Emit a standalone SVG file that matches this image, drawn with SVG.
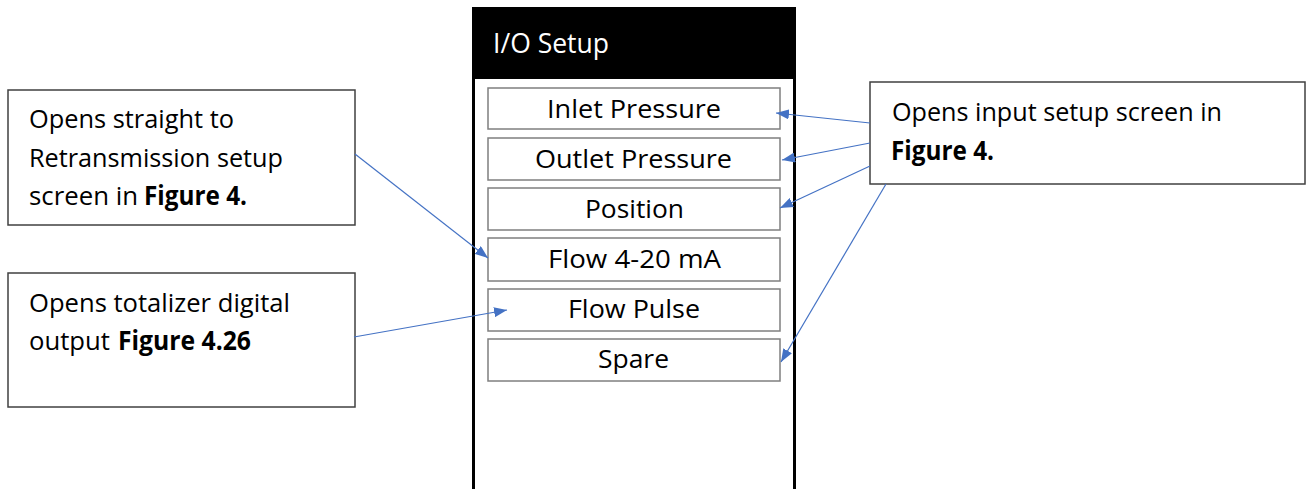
<svg xmlns="http://www.w3.org/2000/svg" width="1306" height="489" viewBox="0 0 1306 489">
<defs>
<style>
.t{font-family:"Open Sans","Liberation Sans",sans-serif;font-size:26px;fill:#000}
.h{font-size:27px;fill:#fff}
.b{font-weight:bold}
.item{fill:#fff;stroke:#7f7f7f;stroke-width:1.5}
.note{fill:#fff;stroke:#404040;stroke-width:1.5}
.c{stroke:#4472c4;stroke-width:1.2;fill:none;marker-end:url(#ah)}
</style>
<marker id="ah" viewBox="0 0 13 10" refX="13" refY="5" markerWidth="13" markerHeight="10" markerUnits="userSpaceOnUse" orient="auto">
<path d="M0,0 L13,5 L0,10 z" fill="#4472c4"/>
</marker>
</defs>
<rect width="1306" height="489" fill="#fff"/>
<g id="panel">
<rect x="473.5" y="8.5" width="321" height="500" fill="#fff" stroke="#000" stroke-width="3"/>
<rect x="472" y="7" width="324" height="72" fill="#000"/>
<text class="t h" x="493" y="53" textLength="116" lengthAdjust="spacingAndGlyphs">I/O Setup</text>
</g>
<g id="inlet">
<rect class="item" x="488" y="88" width="292" height="41"/>
<text class="t" x="547" y="118" textLength="174" lengthAdjust="spacingAndGlyphs">Inlet Pressure</text>
</g>
<g id="outlet">
<rect class="item" x="488" y="138" width="292" height="42"/>
<text class="t" x="535" y="168" textLength="197" lengthAdjust="spacingAndGlyphs">Outlet Pressure</text>
</g>
<g id="position">
<rect class="item" x="488" y="188" width="292" height="42"/>
<text class="t" x="585" y="218" textLength="99" lengthAdjust="spacingAndGlyphs">Position</text>
</g>
<g id="flow420">
<rect class="item" x="488" y="238" width="292" height="43"/>
<text class="t" x="548" y="268" textLength="173" lengthAdjust="spacingAndGlyphs">Flow 4-20 mA</text>
</g>
<g id="flowpulse">
<rect class="item" x="488" y="289" width="292" height="42"/>
<text class="t" x="568" y="318" textLength="132" lengthAdjust="spacingAndGlyphs">Flow Pulse</text>
</g>
<g id="spare">
<rect class="item" x="488" y="339" width="292" height="42"/>
<text class="t" x="598" y="368" textLength="71" lengthAdjust="spacingAndGlyphs">Spare</text>
</g>
<g id="note-retrans">
<rect class="note" x="8" y="90" width="347" height="135"/>
<text class="t" x="29" y="128" textLength="205" lengthAdjust="spacingAndGlyphs">Opens straight to</text>
<text class="t" x="29" y="167" textLength="254" lengthAdjust="spacingAndGlyphs">Retransmission setup</text>
<text class="t" x="29" y="205" textLength="109" lengthAdjust="spacingAndGlyphs">screen in</text>
<text class="t b" x="144" y="205" textLength="103" lengthAdjust="spacingAndGlyphs">Figure 4.</text>
</g>
<g id="note-totalizer">
<rect class="note" x="8" y="273" width="347" height="134"/>
<text class="t" x="29" y="312" textLength="261" lengthAdjust="spacingAndGlyphs">Opens totalizer digital</text>
<text class="t" x="29" y="350" textLength="81" lengthAdjust="spacingAndGlyphs">output</text>
<text class="t b" x="118" y="350" textLength="133" lengthAdjust="spacingAndGlyphs">Figure 4.26</text>
</g>
<g id="note-input">
<rect class="note" x="870" y="82" width="435" height="102" stroke="#000"/>
<text class="t" x="892" y="121" textLength="330" lengthAdjust="spacingAndGlyphs">Opens input setup screen in</text>
<text class="t b" x="891" y="160" textLength="103" lengthAdjust="spacingAndGlyphs">Figure 4.</text>
</g>
<g id="connectors">
<line class="c" x1="870" y1="123" x2="776" y2="113"/>
<line class="c" x1="870" y1="143" x2="782" y2="160"/>
<line class="c" x1="870" y1="166" x2="780" y2="208"/>
<line class="c" x1="886" y1="184" x2="781" y2="362"/>
<line class="c" x1="355" y1="154" x2="488" y2="258"/>
<line class="c" x1="354" y1="337" x2="507" y2="310"/>
</g>
</svg>
